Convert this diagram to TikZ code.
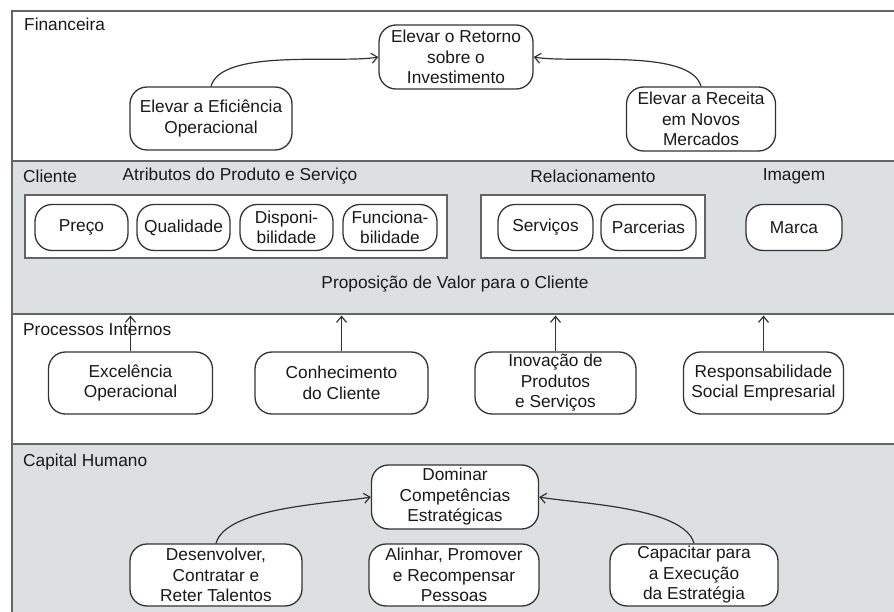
\documentclass[tikz,border=0pt]{standalone}
\usepackage{fontspec}
\setmainfont{Liberation Sans}
\usepackage{tikz}
\usetikzlibrary{arrows.meta,positioning}
\definecolor{bandgray}{RGB}{221,224,224}
\definecolor{linegray}{RGB}{100,100,100}
\tikzstyle{objective} = [draw=black!80, line width=1.3pt, fill=white, rounded corners=17pt, align=center, inner sep=0pt, text=black!90]
\tikzstyle{group} = [draw=linegray, line width=1.8pt, fill=white, inner sep=0pt]
\tikzstyle{band} = [draw=linegray, line width=1.8pt]
\tikzstyle{arrow} = [line width=1.2pt, draw=black!80, -{Straight Barb[length=6pt,width=10pt]}]

\begin{document}
\begin{tikzpicture}[x=1pt, y=-1pt, font=\fontsize{17.3}{20.5}\selectfont]
		\useasboundingbox (0,0) rectangle (894,612);
		\coordinate (retorno) at (456,57);
		\coordinate (eficiencia) at (211,118.5);
		\coordinate (receita) at (701,119);
		\coordinate (preco) at (81.5,227.5);
		\coordinate (qualidade) at (183.5,227.5);
		\coordinate (disponibilidade) at (286.5,227.5);
		\coordinate (funcionabilidade) at (390,227.5);
		\coordinate (servicos) at (545.5,227.5);
		\coordinate (parcerias) at (648.5,227.5);
		\coordinate (marca) at (794,227.5);
		\coordinate (excelencia) at (130.5,383);
		\coordinate (conhecimento) at (341.5,383);
		\coordinate (inovacao) at (555.5,383);
		\coordinate (responsabilidade) at (763.5,383);
		\coordinate (dominar) at (455,497);
		\coordinate (desenvolver) at (216,575);
		\coordinate (alinhar) at (454,575);
		\coordinate (capacitar) at (694,575);
		\coordinate (proctop) at (0,315.5);
		% Bands
		\fill[bandgray] (12,161) rectangle (894,314);
		\fill[bandgray] (12,444) rectangle (894,612);
		\draw[band] (894,11) -- (12,11) -- (12,612);
		\draw[band] (12,161) -- (894,161);
		\draw[band] (12,314) -- (894,314);
		\draw[band] (12,444) -- (894,444);
		% Band titles
		\begin{scope}[every node/.style={anchor=west, inner sep=0pt, text=black!90}]
		\node[name=financeira] at (24,24) {Financeira};
		\node[name=cliente] at (23,176) {Cliente};
		\node[name=processos] at (23,330) {Processos Internos};
		\node[name=capital] at (23,462) {Capital Humano};
		\end{scope}
		\begin{scope}[every node/.style={inner sep=0pt, text=black!90}]
		\node[name=atributos] at (240,176) {Atributos do Produto e Servi\c{c}o};
		\node[name=relacionamento] at (593,176) {Relacionamento};
		\node[name=imagem] at (794,176) {Imagem};
		\node[name=proposicao] at (455,284) {Proposi\c{c}\~ao de Valor para o Cliente};
		\end{scope}
		% Groups of attributes
		\node[group, minimum width=422, minimum height=63, name=atributosbox] at (236,226.5) {};
		\node[group, minimum width=224, minimum height=63, name=relacionamentobox] at (593,226.5) {};
		% Financeira
		\begin{scope}[every node/.style={objective, minimum height=64}]
		\node[name=retorno, minimum width=154] at (retorno) {Elevar o Retorno\\sobre o\\Investimento};
		\node[name=eficiencia, minimum width=162, minimum height=63] at (eficiencia) {Elevar a Efici\^encia\\Operacional};
		\node[name=receita, minimum width=149] at (receita) {Elevar a Receita\\em Novos\\Mercados};
		\end{scope}
		% Cliente
		\begin{scope}[every node/.style={objective, minimum height=46}]
		\node[name=preco, minimum width=93] at (preco) {Pre\c{c}o};
		\node[name=qualidade, minimum width=93] at (qualidade) {Qualidade};
		\node[name=disponibilidade, minimum width=93] at (disponibilidade) {Disponi-\\bilidade};
		\node[name=funcionabilidade, minimum width=94] at (funcionabilidade) {Funciona-\\bilidade};
		\node[name=servicos, minimum width=95] at (servicos) {Servi\c{c}os};
		\node[name=parcerias, minimum width=95] at (parcerias) {Parcerias};
		\node[name=marca, minimum width=96] at (marca) {Marca};
		\end{scope}
		% Processos Internos
		\begin{scope}[every node/.style={objective, minimum height=62}]
		\node[name=excelencia, minimum width=164] at (excelencia) {Excel\^encia\\Operacional};
		\node[name=conhecimento, minimum width=173] at (conhecimento) {Conhecimento\\do Cliente};
		\node[name=inovacao, minimum width=161] at (inovacao) {Inova\c{c}\~ao de\\Produtos\\e Servi\c{c}os};
		\node[name=responsabilidade, minimum width=160] at (responsabilidade) {Responsabilidade\\Social Empresarial};
		\end{scope}
		% Capital Humano
		\begin{scope}[every node/.style={objective, minimum height=62}]
		\node[name=dominar, minimum width=167, minimum height=64] at (dominar) {Dominar\\Compet\^encias\\Estrat\'egicas};
		\node[name=desenvolver, minimum width=172] at (desenvolver) {Desenvolver,\\Contratar e\\Reter Talentos};
		\node[name=alinhar, minimum width=170] at (alinhar) {Alinhar, Promover\\e Recompensar\\Pessoas};
		\node[name=capacitar, minimum width=168] at (capacitar) {Capacitar para\\a Execu\c{c}\~ao\\da Estrat\'egia};
		\end{scope}
		\draw [arrow] (eficiencia.north) to[out=75,in=190,looseness=0.6] (retorno.west);
		\draw [arrow] (receita.north) to[out=105,in=-10,looseness=0.6] (retorno.east);
		\draw [arrow] (excelencia.north) -- (excelencia.north |- proctop);
		\draw [arrow] (conhecimento.north) -- (conhecimento.north |- proctop);
		\draw [arrow] (inovacao.north) -- (inovacao.north |- proctop);
		\draw [arrow] (responsabilidade.north) -- (responsabilidade.north |- proctop);
		\draw [arrow] (desenvolver.north) to[out=75,in=190,looseness=0.6] (dominar.west);
		\draw [arrow] (capacitar.north) to[out=105,in=-10,looseness=0.6] (dominar.east);
		\end{tikzpicture}
\end{document}
